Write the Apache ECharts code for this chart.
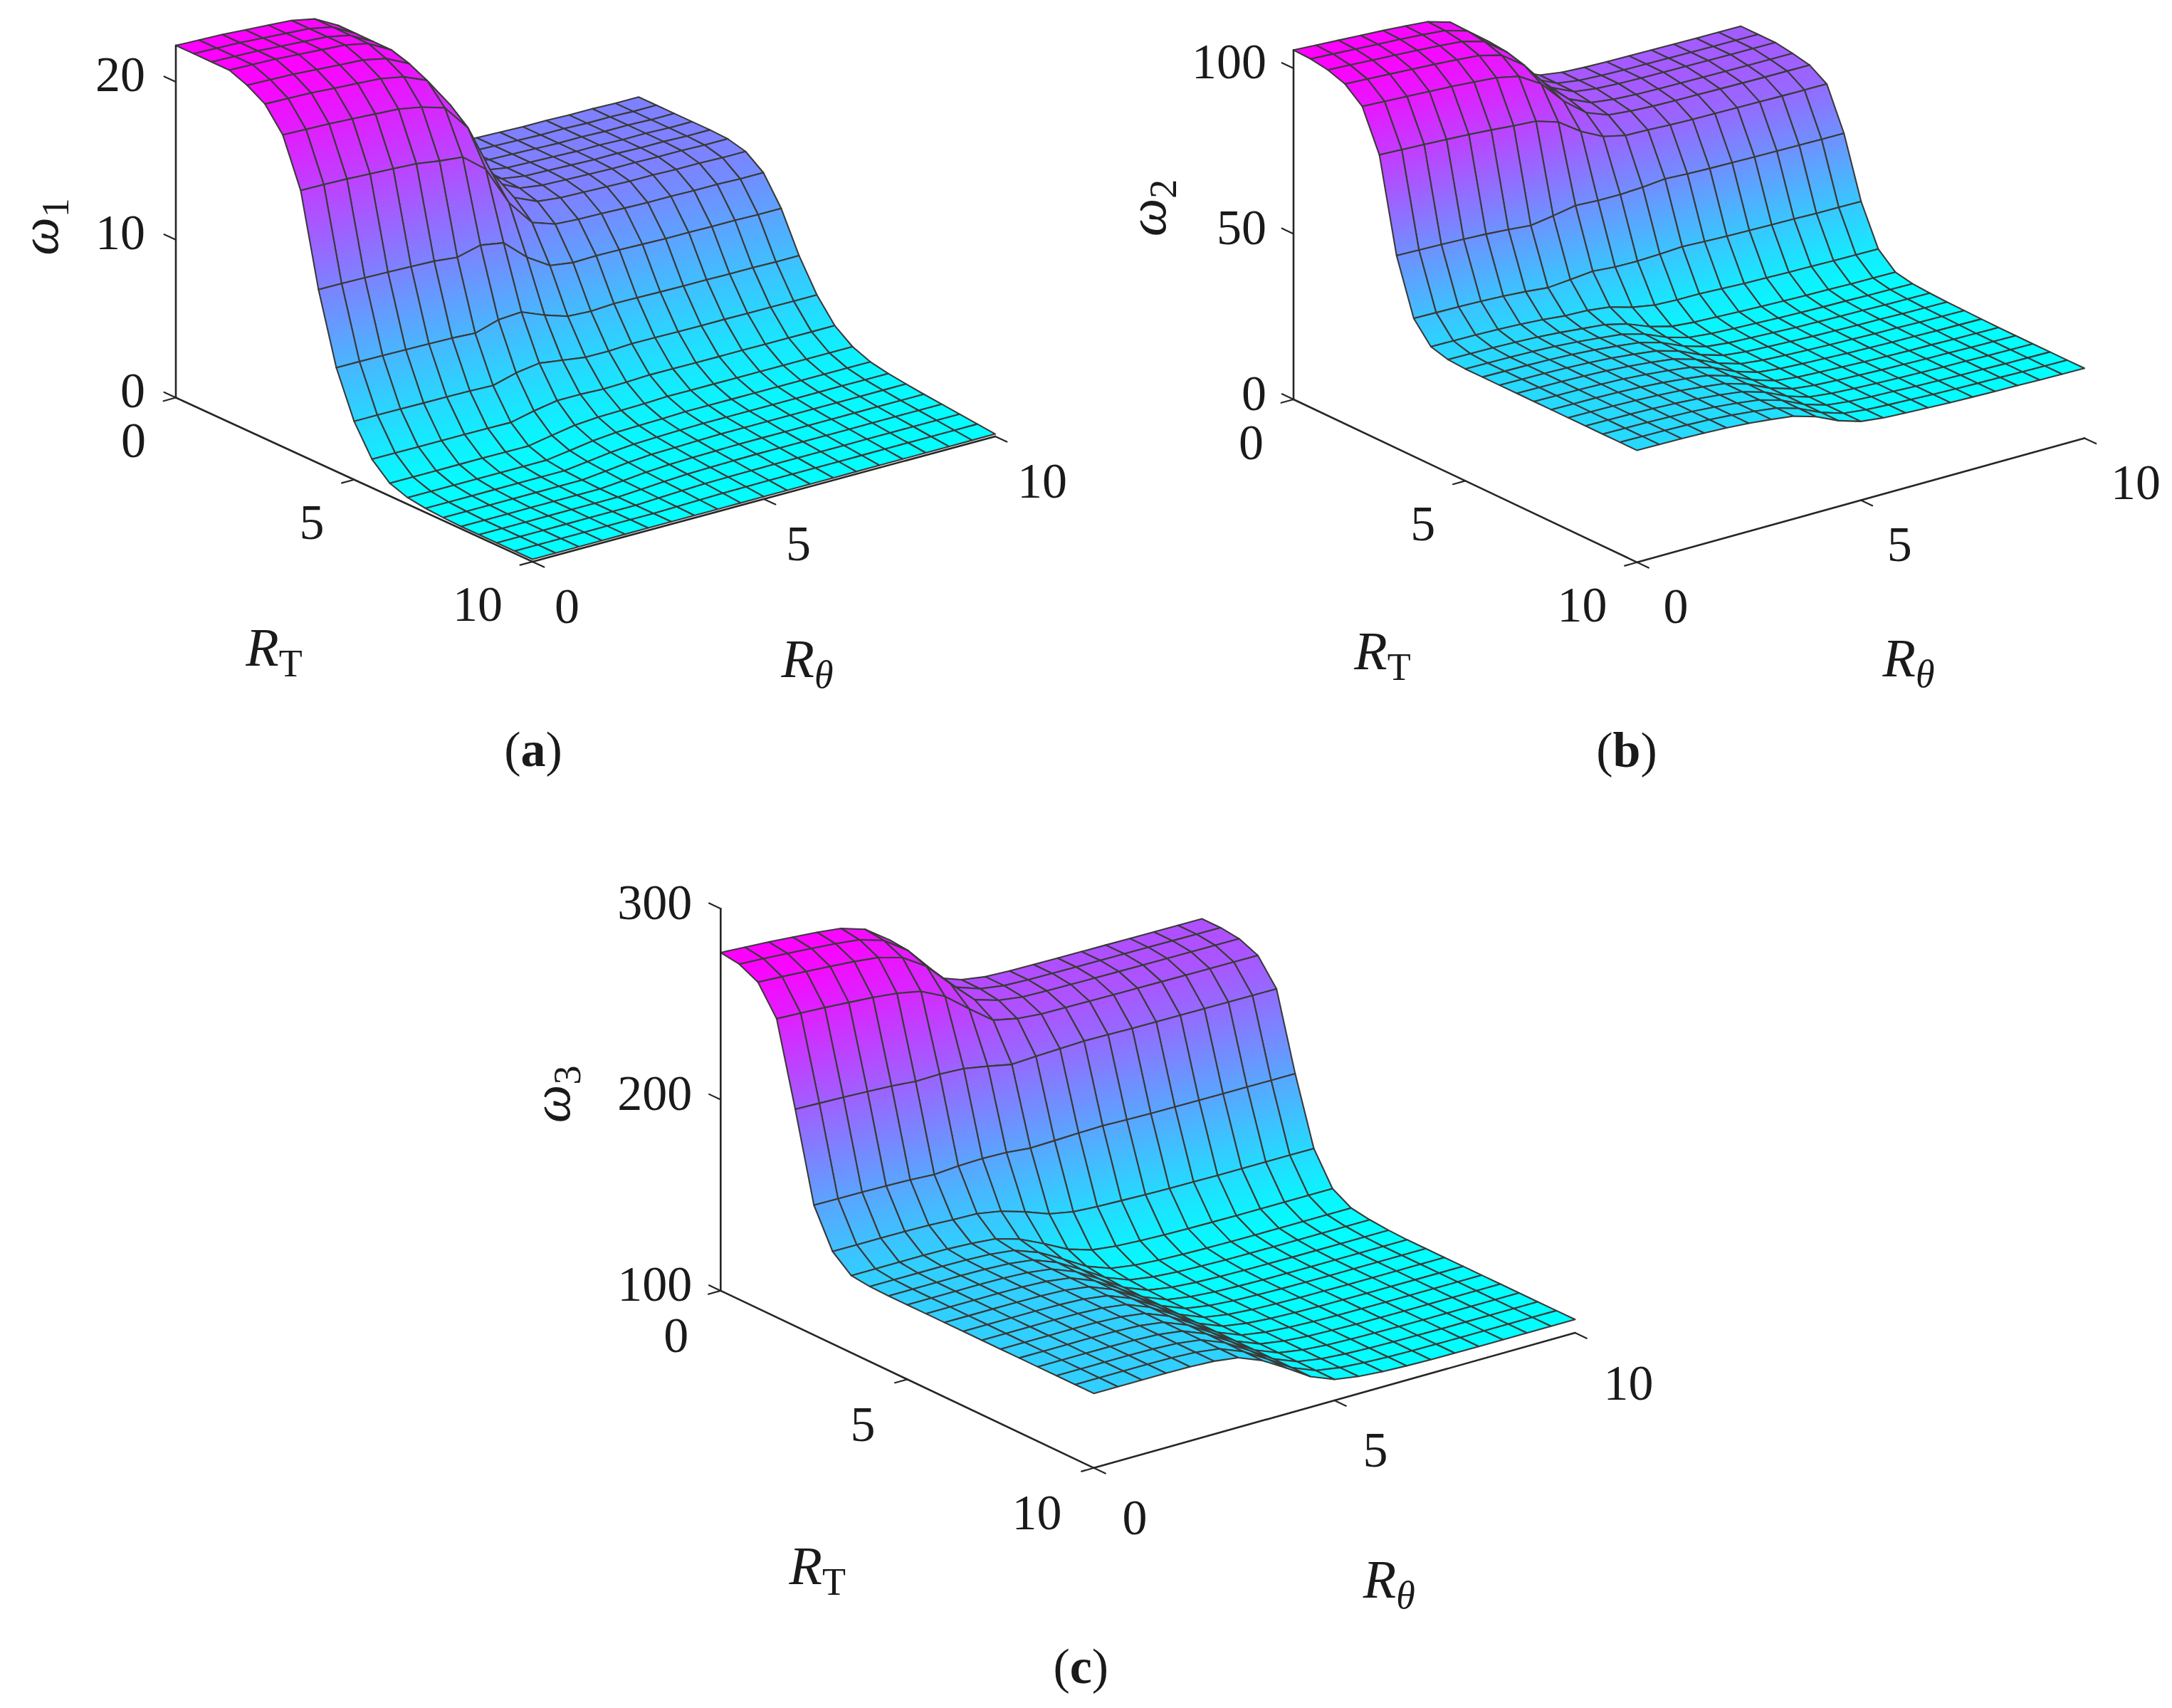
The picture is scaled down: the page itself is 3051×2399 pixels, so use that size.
<!DOCTYPE html>
<html>
<head>
<meta charset="utf-8">
<script src="https://cdn.jsdelivr.net/npm/echarts@6/dist/echarts.min.js"></script>
<style>html,body{margin:0;padding:0;background:#ffffff}#chart{width:3051px;height:2399px}</style>
</head>
<body>
<div id="chart"></div>
<script>
// ---------------- data ----------------
const rtValues  = [0,0.5,1,1.5,2,2.5,3,3.5,4,4.5,5,5.5,6,6.5,7,7.5,8,8.5,9,9.5,10];
const rthValues = [0,0.5,1,1.5,2,2.5,3,3.5,4,4.5,5,5.5,6,6.5,7,7.5,8,8.5,9,9.5,10];
const rtTicks  = [0,5,10];
const rthTicks = [0,5,10];
const omega1Ticks = [0,10,20];
const omega2Ticks = [0,50,100];
const omega3Ticks = [100,200,300];

// each inner array: one R_theta value (rthValues[j]), values along rtValues
const omega1 = [
 [22.3,22.3,22.3,22.3,21.86,21.19,19.75,16.76,11.0,6.57,3.69,1.81,0.81,0.42,0.26,0.19,0.15,0.15,0.15,0.15,0.15],
 [22.25,22.25,22.25,22.25,21.81,21.15,19.71,16.73,10.98,6.56,3.69,1.81,0.81,0.42,0.26,0.19,0.15,0.15,0.15,0.15,0.15],
 [22.2,22.2,22.2,22.2,21.76,21.1,19.66,16.69,10.95,6.54,3.68,1.8,0.81,0.41,0.26,0.19,0.15,0.15,0.15,0.15,0.15],
 [22.1,22.1,22.1,22.1,21.66,21.0,19.58,16.61,10.91,6.52,3.66,1.8,0.81,0.41,0.26,0.19,0.15,0.15,0.15,0.15,0.15],
 [22.0,22.0,22.0,22.0,21.56,20.91,19.49,16.54,10.86,6.49,3.65,1.79,0.81,0.41,0.26,0.19,0.15,0.15,0.15,0.15,0.15],
 [21.9,21.9,21.9,21.9,21.47,20.81,19.4,16.46,10.81,6.46,3.63,1.78,0.8,0.41,0.26,0.19,0.15,0.15,0.15,0.15,0.15],
 [21.6,21.6,21.6,21.6,21.17,20.53,19.13,16.24,10.66,6.37,3.58,1.76,0.79,0.41,0.26,0.19,0.15,0.15,0.15,0.15,0.15],
 [20.8,20.8,20.8,20.8,20.45,19.91,18.69,16.09,11.03,6.82,3.98,2.09,1.06,0.62,0.44,0.35,0.27,0.24,0.21,0.18,0.15],
 [18.6,18.6,18.6,18.6,18.36,17.97,17.03,14.93,10.78,6.92,4.2,2.35,1.31,0.84,0.63,0.51,0.41,0.34,0.28,0.21,0.15],
 [14.8,14.8,14.8,14.8,14.68,14.46,13.86,12.41,9.48,6.33,3.99,2.35,1.42,0.97,0.75,0.62,0.5,0.41,0.33,0.24,0.15],
 [12.4,12.4,12.4,12.4,12.35,12.23,11.82,10.76,8.55,5.86,3.78,2.29,1.45,1.01,0.8,0.66,0.54,0.44,0.35,0.25,0.15],
 [11.6,11.6,11.6,11.6,11.58,11.5,11.18,10.26,8.34,5.78,3.77,2.33,1.49,1.05,0.84,0.7,0.57,0.47,0.36,0.26,0.15],
 [11.35,11.35,11.35,11.35,11.35,11.29,11.01,10.17,8.38,5.86,3.85,2.39,1.55,1.1,0.88,0.73,0.6,0.49,0.37,0.26,0.15],
 [11.3,11.3,11.3,11.3,11.3,11.24,10.97,10.13,8.35,5.84,3.83,2.38,1.54,1.1,0.87,0.73,0.6,0.48,0.37,0.26,0.15],
 [11.25,11.25,11.25,11.25,11.25,11.19,10.92,10.08,8.31,5.81,3.81,2.37,1.54,1.09,0.87,0.73,0.59,0.48,0.37,0.26,0.15],
 [11.2,11.2,11.2,11.2,11.2,11.14,10.87,10.04,8.27,5.79,3.8,2.36,1.53,1.09,0.87,0.72,0.59,0.48,0.37,0.26,0.15],
 [11.2,11.2,11.2,11.2,11.2,11.14,10.87,10.04,8.27,5.79,3.8,2.36,1.53,1.09,0.87,0.72,0.59,0.48,0.37,0.26,0.15],
 [11.15,11.15,11.15,11.15,11.15,11.1,10.82,10.0,8.24,5.76,3.78,2.35,1.53,1.09,0.87,0.72,0.59,0.48,0.37,0.26,0.15],
 [11.15,11.15,11.15,11.15,11.15,11.1,10.82,10.0,8.24,5.76,3.78,2.35,1.53,1.09,0.87,0.72,0.59,0.48,0.37,0.26,0.15],
 [11.1,11.1,11.1,11.1,11.1,11.05,10.77,9.95,8.2,5.73,3.76,2.34,1.52,1.08,0.86,0.72,0.59,0.48,0.37,0.26,0.15],
 [11.1,11.1,11.1,11.1,11.1,11.05,10.77,9.95,8.2,5.73,3.76,2.34,1.52,1.08,0.86,0.72,0.59,0.48,0.37,0.26,0.15]
];

const omega2 = [
 [105.5,105.28,104.42,102.63,98.33,86.14,58.18,41.69,35.59,34.16,33.8,33.8,33.8,33.8,33.8,33.8,33.8,33.8,33.8,33.8,33.8],
 [105.1,104.89,104.03,102.24,97.96,85.82,57.98,41.55,35.49,34.06,33.7,33.7,33.7,33.7,33.7,33.7,33.7,33.7,33.7,33.7,33.7],
 [104.7,104.49,103.63,101.86,97.59,85.5,57.77,41.42,35.38,33.96,33.6,33.6,33.6,33.6,33.6,33.6,33.6,33.6,33.6,33.6,33.6],
 [104.3,104.09,103.24,101.46,97.21,85.16,57.51,41.2,35.17,33.75,33.4,33.4,33.4,33.4,33.4,33.4,33.4,33.4,33.4,33.4,33.4],
 [103.9,103.69,102.84,101.07,96.82,84.78,57.17,40.89,34.87,33.45,33.1,33.1,33.1,33.1,33.1,33.1,33.1,33.1,33.1,33.1,33.1],
 [103.4,103.19,102.34,100.57,96.32,84.28,56.67,40.39,34.37,32.95,32.6,32.6,32.6,32.6,32.6,32.6,32.6,32.6,32.6,32.6,32.6],
 [102.8,102.59,101.74,99.96,95.71,83.66,56.01,39.7,33.67,32.25,31.9,31.9,31.9,31.9,31.9,31.9,31.9,31.9,31.9,31.9,31.9],
 [100.8,100.61,99.86,98.18,94.27,83.18,57.07,40.28,33.41,31.57,31.12,31.07,31.04,31.03,31.01,31.0,31.0,31.0,31.0,31.0,31.0],
 [95.5,95.36,94.8,93.34,90.15,81.04,58.29,40.9,32.56,29.95,29.34,29.2,29.12,29.08,29.04,29.0,29.0,29.0,29.0,29.0,29.0],
 [87.0,86.92,86.59,85.4,83.07,76.38,57.93,40.35,30.62,27.25,26.47,26.24,26.1,26.03,25.97,25.9,25.9,25.9,25.9,25.9,25.9],
 [80.5,80.46,80.31,79.34,77.7,72.93,57.89,40.21,29.42,25.46,24.55,24.24,24.07,23.98,23.89,23.8,23.8,23.8,23.8,23.8,23.8],
 [77.3,77.29,77.23,76.38,75.12,71.38,58.2,40.46,29.1,24.82,23.85,23.5,23.3,23.2,23.1,23.0,23.0,23.0,23.0,23.0,23.0],
 [76.3,76.3,76.3,75.49,74.42,71.2,58.85,40.86,29.04,24.53,23.51,23.14,22.92,22.81,22.71,22.6,22.6,22.6,22.6,22.6,22.6],
 [75.9,75.9,75.9,75.1,74.02,70.81,58.48,40.52,28.73,24.23,23.21,22.84,22.62,22.51,22.41,22.3,22.3,22.3,22.3,22.3,22.3],
 [75.7,75.7,75.7,74.89,73.82,70.6,58.25,40.26,28.44,23.93,22.91,22.54,22.32,22.21,22.11,22.0,22.0,22.0,22.0,22.0,22.0],
 [75.6,75.6,75.6,74.79,73.72,70.49,58.12,40.09,28.26,23.74,22.71,22.34,22.12,22.02,21.91,21.8,21.8,21.8,21.8,21.8,21.8],
 [75.5,75.5,75.5,74.69,73.61,70.38,57.98,39.93,28.07,23.54,22.52,22.14,21.92,21.82,21.71,21.6,21.6,21.6,21.6,21.6,21.6],
 [75.4,75.4,75.4,74.59,73.51,70.28,57.88,39.83,27.97,23.44,22.42,22.04,21.82,21.72,21.61,21.5,21.5,21.5,21.5,21.5,21.5],
 [75.3,75.3,75.3,74.49,73.41,70.17,57.75,39.66,27.78,23.24,22.22,21.84,21.62,21.52,21.41,21.3,21.3,21.3,21.3,21.3,21.3],
 [75.25,75.25,75.25,74.44,73.36,70.12,57.68,39.58,27.69,23.15,22.12,21.74,21.52,21.42,21.31,21.2,21.2,21.2,21.2,21.2,21.2],
 [75.2,75.2,75.2,74.39,73.31,70.06,57.62,39.49,27.59,23.05,22.02,21.64,21.42,21.32,21.21,21.1,21.1,21.1,21.1,21.1,21.1]
];

const omega3 = [
 [277,275.62,270.79,256.3,213.52,167.98,148.38,140.38,139.28,139,139,139,139,139,139,139,139,139,139,139,139],
 [276.3,274.93,270.12,255.71,213.14,167.83,148.34,140.37,139.27,139,139,139,139,139,139,139,139,139,139,139,139],
 [275.5,274.14,269.36,255.03,212.71,167.67,148.28,140.37,139.27,139,139,139,139,139,139,139,139,139,139,139,139],
 [274.5,273.15,268.4,254.18,212.17,167.46,148.21,140.36,139.27,139,139,139,139,139,139,139,139,139,139,139,139],
 [273.5,272.15,267.44,253.3,211.54,167.09,147.96,140.15,139.07,138.8,138.8,138.8,138.8,138.8,138.8,138.8,138.8,138.8,138.8,138.8,138.8],
 [272,270.66,265.98,251.93,210.45,166.3,147.3,139.54,138.47,138.2,138.2,138.2,138.2,138.2,138.2,138.2,138.2,138.2,138.2,138.2,138.2],
 [268,266.79,262.45,249.38,210.72,167.22,146.94,138.45,136.99,136.61,136.53,136.5,136.5,136.5,136.5,136.5,136.5,136.5,136.5,136.5,136.5],
 [259,258.04,254.38,243.22,210.07,167.68,144.7,134.69,132.42,131.82,131.6,131.5,131.5,131.5,131.5,131.5,131.5,131.5,131.5,131.5,131.5],
 [245,244.4,241.67,233.2,207.79,167.26,140.82,128.84,125.51,124.61,124.18,124,124,124,124,124,124,124,124,124,124],
 [232,231.71,229.83,223.74,205.18,166.03,136.24,122.38,118.06,116.87,116.26,116,116,116,116,116,116,116,116,116,116],
 [227.5,227.38,225.93,221.03,205.89,166.4,133.81,118.46,113.43,112.05,111.31,111,111,111,111,111,111,111,111,111,111],
 [225.5,225.47,224.21,219.89,206.38,166.8,132.97,116.95,111.61,110.13,109.34,109,109,109,109,109,109,109,109,109,109],
 [225,225,223.83,219.74,206.87,167.09,132.57,116.19,110.69,109.17,108.35,108,108,108,108,108,108,108,108,108,108],
 [224.8,224.8,223.63,219.52,206.62,166.74,132.13,115.71,110.2,108.67,107.85,107.5,107.5,107.5,107.5,107.5,107.5,107.5,107.5,107.5,107.5],
 [224.6,224.6,223.43,219.32,206.4,166.49,131.85,115.42,109.9,108.37,107.55,107.2,107.2,107.2,107.2,107.2,107.2,107.2,107.2,107.2,107.2],
 [224.5,224.5,223.33,219.22,206.3,166.39,131.75,115.32,109.8,108.27,107.45,107.1,107.1,107.1,107.1,107.1,107.1,107.1,107.1,107.1,107.1],
 [224.4,224.4,223.23,219.12,206.2,166.29,131.65,115.22,109.7,108.17,107.35,107,107,107,107,107,107,107,107,107,107],
 [224.3,224.3,223.13,219.02,206.12,166.24,131.63,115.21,109.7,108.17,107.35,107,107,107,107,107,107,107,107,107,107],
 [224.2,224.2,223.03,218.93,206.03,166.19,131.61,115.2,109.7,108.17,107.35,107,107,107,107,107,107,107,107,107,107],
 [224.1,224.1,222.93,218.83,205.95,166.14,131.59,115.2,109.69,108.17,107.35,107,107,107,107,107,107,107,107,107,107],
 [224,224,222.83,218.74,205.87,166.09,131.57,115.19,109.69,108.17,107.35,107,107,107,107,107,107,107,107,107,107]
];

// ---------------- view / layout (pixels) ----------------
const W = 3051, H = 2399;
const FONT = 'Liberation Serif, Times New Roman, serif';
const INK = '#1a1a1a';
const panels = [
  { name:'a', sub:'1', data: omega1, zTicks: omega1Ticks, zMin: 0, zTop: null,
    origin:[247,558.5], eRT:[50.1,23.04], eRth:[65.0,-17.6], zPx:22.18,
    zLab:[-43,-10], rtLab:[-42,60], rthLab:[31,63],
    zTitle:[-192,-240], rtTitle:[138,350], rthTitle:[887,366], tag:[502,494] },
  { name:'b', sub:'2', data: omega2, zTicks: omega2Ticks, zMin: 0, zTop: null,
    origin:[1817,561], eRT:[48.26,22.88], eRth:[62.84,-17.44], zPx:4.651,
    zLab:[-38,-9], rtLab:[-42,60], rthLab:[37,62],
    zTitle:[-206,-269], rtTitle:[125,353], rthTitle:[864,363], tag:[468,492] },
  { name:'c', sub:'3', data: omega3, zTicks: omega3Ticks, zMin: 100, zTop: 300,
    origin:[1012.3,1812.9], eRT:[52.42,24.89], eRth:[67.6,-18.97], zPx:2.683,
    zLab:[-40,-9], rtLab:[-45,63], rthLab:[40,70],
    zTitle:[-238,-276], rtTitle:[136,386], rthTitle:[939,405], tag:[506,528] }
];

panels.forEach(p => {
  let mn = Infinity, mx = -Infinity;
  p.data.forEach(col => col.forEach(v => { if (v < mn) mn = v; if (v > mx) mx = v; }));
  p.cMin = mn; p.cMax = mx;
  if (p.zTop === null) p.zTop = mx;
});

function project(p, rt, rth, z) {
  return [rt * p.eRT[0] + rth * p.eRth[0],
          rt * p.eRT[1] + rth * p.eRth[1] - (z - p.zMin) * p.zPx];
}
function coolColor(t) {
  t = Math.max(0, Math.min(1, t));
  return 'rgb(' + Math.round(255 * t) + ',' + Math.round(255 * (1 - t)) + ',255)';
}
function unit(v) { const l = Math.hypot(v[0], v[1]); return [v[0] / l, v[1] / l]; }

// fill of one cell: the colormap varies linearly with height across the face
function cellFill(p, pts, zs) {
  const tOf = z => (z - p.cMin) / (p.cMax - p.cMin);
  let xm = 0, ym = 0, zm = 0;
  for (let k = 0; k < 4; k++) { xm += pts[k][0]; ym += pts[k][1]; zm += zs[k]; }
  xm /= 4; ym /= 4; zm /= 4;
  const zlo = Math.min.apply(null, zs), zhi = Math.max.apply(null, zs);
  if (zhi - zlo < 1e-4 * (p.cMax - p.cMin)) return coolColor(tOf(zm));
  let Sxx = 0, Sxy = 0, Syy = 0, Sxz = 0, Syz = 0;
  for (let k = 0; k < 4; k++) {
    const dx = pts[k][0] - xm, dy = pts[k][1] - ym, dz = zs[k] - zm;
    Sxx += dx * dx; Sxy += dx * dy; Syy += dy * dy; Sxz += dx * dz; Syz += dy * dz;
  }
  const det = Sxx * Syy - Sxy * Sxy;
  if (Math.abs(det) < 1e-9) return coolColor(tOf(zm));
  const b = (Sxz * Syy - Syz * Sxy) / det, c = (Syz * Sxx - Sxz * Sxy) / det;
  const g2 = b * b + c * c;
  if (g2 < 1e-12) return coolColor(tOf(zm));
  const x0 = xm + b / g2 * (zlo - zm), y0 = ym + c / g2 * (zlo - zm);
  const x1 = xm + b / g2 * (zhi - zm), y1 = ym + c / g2 * (zhi - zm);
  if (Math.hypot(x1 - x0, y1 - y0) < 0.8) return coolColor(tOf(zm));
  return new echarts.graphic.LinearGradient(x0, y0, x1, y1, [
    { offset: 0, color: coolColor(tOf(zlo)) },
    { offset: 1, color: coolColor(tOf(zhi)) }
  ], true);
}

const grids = [], xAxes = [], yAxes = [], series = [];
panels.forEach((p, k) => {
  grids.push({ left: 0, top: 0, width: W, height: H, containLabel: false });
  xAxes.push({ type: 'value', gridIndex: k, min: -p.origin[0], max: W - p.origin[0], show: false });
  yAxes.push({ type: 'value', gridIndex: k, inverse: true, min: -p.origin[1], max: H - p.origin[1], show: false });

  // cells, far to near
  const cells = [];
  for (let j = 0; j < rthValues.length - 1; j++) {
    for (let i = 0; i < rtValues.length - 1; i++) {
      const rtm = (rtValues[i] + rtValues[i + 1]) / 2, rthm = (rthValues[j] + rthValues[j + 1]) / 2;
      cells.push([i, j, rtm * p.eRT[1] + rthm * p.eRth[1]]);
    }
  }
  cells.sort((a, b) => a[2] - b[2]);

  series.push({
    type: 'custom', coordinateSystem: 'cartesian2d', xAxisIndex: k, yAxisIndex: k,
    data: cells, dimensions: ['i', 'j', 'depth'], encode: { x: 0, y: 1 },
    clip: false, silent: true, animation: false, z: 2,
    renderItem: function (params, api) {
      const i = api.value(0), j = api.value(1);
      const corners = [[i, j], [i + 1, j], [i + 1, j + 1], [i, j + 1]];
      const zs = corners.map(c => p.data[c[1]][c[0]]);
      const pts = corners.map((c, n) => api.coord(project(p, rtValues[c[0]], rthValues[c[1]], zs[n])));
      return { type: 'polygon', shape: { points: pts },
               style: { fill: cellFill(p, pts, zs), stroke: '#3a3a3a', lineWidth: 2.1, lineJoin: 'round' } };
    }
  });

  // axes, ticks, labels
  series.push({
    type: 'custom', coordinateSystem: 'cartesian2d', xAxisIndex: k, yAxisIndex: k,
    data: [[0, 0]], encode: { x: 0, y: 1 }, clip: false, silent: true, animation: false, z: 5,
    renderItem: function (params, api) {
      const ch = [];
      const rtMax = rtValues[rtValues.length - 1], rthMax = rthValues[rthValues.length - 1];
      const P = (rt, rth, z) => api.coord(project(p, rt, rth, z));
      const uRT = unit(p.eRT), uRth = unit(p.eRth), TL = 18;
      const line = (a, b, w) => ch.push({ type: 'line', shape: { x1: a[0], y1: a[1], x2: b[0], y2: b[1] },
                                         style: { stroke: '#262626', lineWidth: w || 2.6, lineCap: 'round' } });
      const txt = (pt, text, align) => ch.push({ type: 'text', x: pt[0], y: pt[1],
                  style: { text: text, fill: INK, fontFamily: FONT, fontSize: 70, lineHeight: 52,
                           align: align, verticalAlign: 'middle' } });
      // axis lines
      line(P(0, 0, p.zMin), P(0, 0, p.zTop));
      line(P(0, 0, p.zMin), P(rtMax, 0, p.zMin));
      line(P(rtMax, 0, p.zMin), P(rtMax, rthMax, p.zMin));
      // z ticks
      p.zTicks.forEach(t => {
        const a = P(0, 0, t);
        line(a, [a[0] - uRT[0] * TL, a[1] - uRT[1] * TL], 2.2);
        txt([a[0] + p.zLab[0], a[1] + p.zLab[1]], String(t), 'right');
      });
      // R_T ticks
      rtTicks.forEach(t => {
        const a = P(t, 0, p.zMin);
        line(a, [a[0] - uRth[0] * TL, a[1] - uRth[1] * TL], 2.2);
        txt([a[0] + p.rtLab[0], a[1] + p.rtLab[1]], String(t), 'right');
      });
      // R_theta ticks
      rthTicks.forEach(t => {
        const a = P(rtMax, t, p.zMin);
        line(a, [a[0] + uRT[0] * TL, a[1] + uRT[1] * TL], 2.2);
        txt([a[0] + p.rthLab[0], a[1] + p.rthLab[1]], String(t), 'left');
      });
      const o = api.coord([0, 0]);
      const richBase = {
        m: { fontFamily: FONT, fontStyle: 'italic', fontSize: 76, lineHeight: 100, fill: INK },
        s: { fontFamily: FONT, fontSize: 54, lineHeight: 50, verticalAlign: 'bottom', fill: INK },
        si: { fontFamily: FONT, fontStyle: 'italic', fontSize: 54, lineHeight: 50, verticalAlign: 'bottom', fill: INK }
      };
      // z title (rotated)
      ch.push({ type: 'text', x: o[0] + p.zTitle[0], y: o[1] + p.zTitle[1], rotation: Math.PI / 2,
        style: { text: '{m|\u03c9}{s|' + p.sub + '}', rich: richBase, align: 'center', verticalAlign: 'middle' } });
      // R_T
      ch.push({ type: 'text', x: o[0] + p.rtTitle[0], y: o[1] + p.rtTitle[1],
        style: { text: '{m|R}{s|T}', rich: richBase, align: 'center', verticalAlign: 'middle' } });
      // R_theta
      ch.push({ type: 'text', x: o[0] + p.rthTitle[0], y: o[1] + p.rthTitle[1],
        style: { text: '{m|R}{si|\u03b8}', rich: richBase, align: 'center', verticalAlign: 'middle' } });
      // panel tag
      ch.push({ type: 'text', x: o[0] + p.tag[0], y: o[1] + p.tag[1],
        style: { text: '{n|(}{b|' + p.name + '}{n|)}', align: 'center', verticalAlign: 'middle',
          rich: { n: { fontFamily: FONT, fontSize: 70, fill: INK }, b: { fontFamily: FONT, fontSize: 70, fontWeight: 'bold', fill: INK } } } });
      return { type: 'group', children: ch };
    }
  });
});

const chart = echarts.init(document.getElementById('chart'), null, { renderer: 'svg', width: W, height: H });
chart.setOption({
  backgroundColor: '#ffffff',
  animation: false,
  grid: grids, xAxis: xAxes, yAxis: yAxes,
  series: series
});
</script>
</body>
</html>
